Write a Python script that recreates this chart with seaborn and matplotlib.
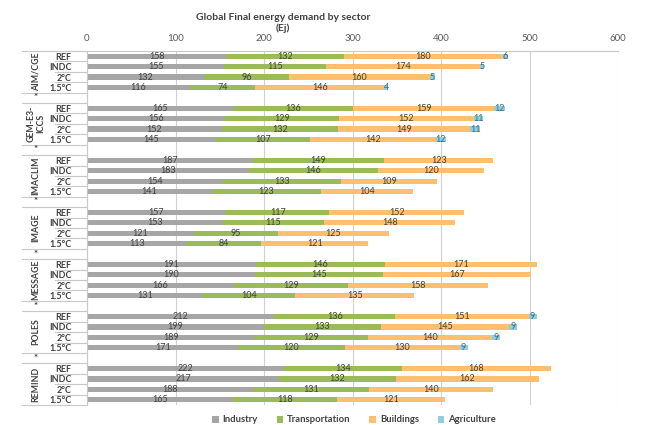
import matplotlib
matplotlib.use("Agg")
import matplotlib.pyplot as plt
from matplotlib.patches import Patch
import seaborn as sns
import numpy as np
import pandas as pd

# Global final energy demand by sector (EJ)
models = ['AIM/CGE', 'GEM-E3-ICCS', 'IMACLIM', 'IMAGE', 'MESSAGE', 'POLES', 'REMIND']
model_labels = ['AIM/CGE', 'GEM-E3-\nICCS', 'IMACLIM', 'IMAGE', 'MESSAGE', 'POLES', 'REMIND']
scenarios = ['REF', 'INDC', '2°C', '1.5°C']

industry = [158, 155, 132, 116,   165, 156, 152, 145,   187, 183, 154, 141,
            157, 153, 121, 113,   191, 190, 166, 131,   212, 199, 189, 171,
            222, 217, 188, 165]
transportation = [132, 115, 96, 74,   136, 129, 132, 107,   149, 146, 133, 123,
                  117, 115, 95, 84,   146, 145, 129, 104,   136, 133, 129, 120,
                  134, 132, 131, 118]
buildings = [180, 174, 160, 146,   159, 152, 149, 142,   123, 120, 109, 104,
             152, 148, 125, 121,   171, 167, 158, 135,   151, 145, 140, 130,
             168, 162, 140, 121]
agriculture = [6, 5, 5, 4,   12, 11, 11, 12,   0, 0, 0, 0,
               0, 0, 0, 0,   0, 0, 0, 0,   9, 9, 9, 9,
               0, 0, 0, 0]

sectors = ['Industry', 'Transportation', 'Buildings', 'Agriculture']
colors = ['#A6A6A6', '#9BBB59', '#FFBF6E', '#93CDDD']

# build rows (with empty separator rows between models)
keys = [f'{m}|{s}' for m in models for s in scenarios]
order = []
for i, m in enumerate(models):
    order += [f'{m}|{s}' for s in scenarios]
    if i < len(models) - 1:
        order.append(f'sep{i}')

df = pd.DataFrame({'row': keys, 'Industry': industry, 'Transportation': transportation,
                   'Buildings': buildings, 'Agriculture': agriculture})
cum = df[sectors].cumsum(axis=1)
cum['row'] = df['row']

plt.rcParams['font.family'] = ['Lato', 'DejaVu Sans']
fig = plt.figure(figsize=(6.49, 4.25), dpi=100)
ax = fig.add_axes([87 / 649, 1 - 405 / 425, 531 / 649, 354 / 425])

# stacked bars: draw cumulative totals from largest to smallest
for sec, col in reversed(list(zip(sectors, colors))):
    sns.barplot(data=cum, x=sec, y='row', order=order, color=col, width=0.5,
                orient='h', ax=ax, saturation=1, zorder=2)

# value labels
pos = {k: order.index(k) for k in keys}
for sec in sectors:
    for j, k in enumerate(keys):
        v = df[sec].iloc[j]
        if v <= 0:
            continue
        start = cum[sec].iloc[j] - v
        c = '#31708A' if sec == 'Agriculture' else '#404040'
        ax.text(start + v / 2, pos[k], str(v), ha='center', va='center',
                fontsize=6.5, color=c, zorder=3)

ax.set_xlim(0, 600)
ax.set_ylim(len(order) - 0.5, -0.5)
ax.set_xticks(range(0, 601, 100))
ax.xaxis.tick_top()
ax.tick_params(axis='x', length=0, pad=6, labelsize=7, labelcolor='#595959')
ax.grid(axis='x', color='#D0D0D0', linewidth=0.8, zorder=0)
ax.set_axisbelow(True)
ax.set_xlabel('')
ax.set_ylabel('')

ax.set_yticks(range(len(order)))
ax.set_yticklabels([k.split('|')[1] if '|' in k else '' for k in order])
ax.tick_params(axis='y', length=0, pad=11, labelsize=6.5, labelcolor='#404040')
for t in ax.get_yticklabels():
    t.set_fontweight('bold')

for side in ['right', 'bottom']:
    ax.spines[side].set_visible(False)
ax.spines['top'].set_color('#C8C8C8')
ax.spines['left'].set_color('#C8C8C8')
ax.spines['top'].set_linewidth(0.8)
ax.spines['left'].set_linewidth(0.8)

# left-hand group labels and box lines
tr = ax.get_yaxis_transform()
x_full = (22 - 87) / 531
x_short = (55 - 87) / 531
x_name = (36 - 87) / 531
lc = '#C8C8C8'
ax.plot([x_full, 0], [-0.5, -0.5], transform=tr, clip_on=False, color=lc, lw=0.8)
for i, m in enumerate(models):
    s = order.index(f'{m}|REF')
    for d in (0.5, 1.5, 2.5):
        ax.plot([x_short, 0], [s + d, s + d], transform=tr, clip_on=False, color=lc, lw=0.8)
    ax.plot([x_full, 0], [s + 3.5, s + 3.5], transform=tr, clip_on=False, color=lc, lw=0.8)
    ax.text(x_name, s + 1.5, model_labels[i], transform=tr, rotation=90, ha='center',
            va='center', fontsize=6.3, fontweight='bold', color='#404040',
            multialignment='center', linespacing=1.0)
    if i < len(models) - 1:
        ax.plot([x_full, 0], [s + 4.5, s + 4.5], transform=tr, clip_on=False, color=lc, lw=0.8)
        ax.text(x_name, s + 4, '*', transform=tr, ha='center', va='center',
                fontsize=7, fontweight='bold', color='#404040')

fig.text(283 / 649, 1 - 23 / 425, 'Global Final energy demand by sector\n(Ej)',
         ha='center', va='center', fontsize=7.5, fontweight='bold', color='#404040',
         linespacing=1.25)

handles = [Patch(facecolor=c, edgecolor='none') for c in colors]
fig.legend(handles, sectors, loc='center', bbox_to_anchor=(354 / 649, 1 - 420 / 425),
           ncol=4, frameon=False, handlelength=0.7, handleheight=0.7,
           handletextpad=0.4, columnspacing=2.0, prop={'weight': 'bold', 'size': 6.8})
for t in fig.legends[0].get_texts():
    t.set_color('#404040')

fig.savefig('out.png', dpi=100)
